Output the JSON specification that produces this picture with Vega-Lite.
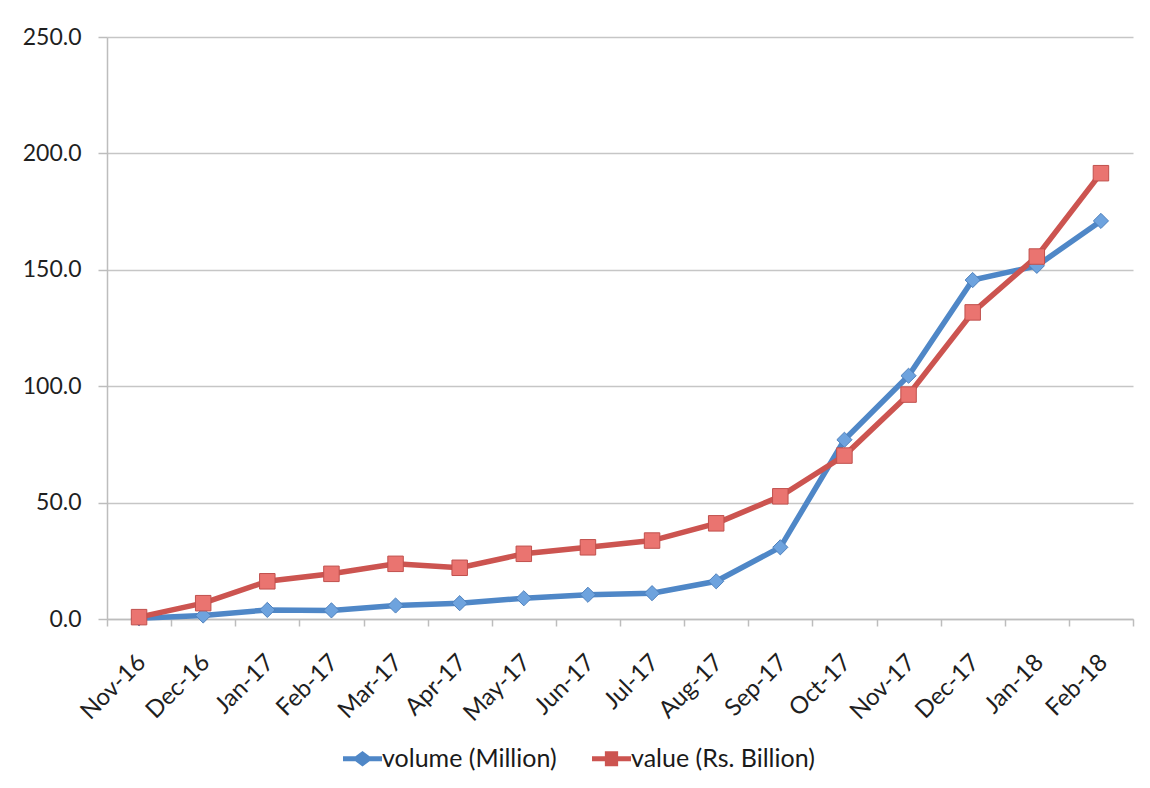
{
  "$schema": "https://vega.github.io/schema/vega-lite/v6.json",
  "width": 1026,
  "height": 582,
  "autosize": {"type": "none"},
  "padding": {"left": 107, "top": 37, "right": 17, "bottom": 169},
  "config": {
    "font": "Lato",
    "view": {"stroke": null},
    "axis": {
      "labelFont": "Lato",
      "labelColor": "#1f1f1f",
      "labelFontSize": 23,
      "domainColor": "#bdbdbd",
      "domainWidth": 1.5,
      "tickColor": "#bdbdbd",
      "tickWidth": 1.5,
      "gridColor": "#c6c6c6",
      "gridWidth": 1.5
    }
  },
  "data": {
    "values": [
      {"month": "Nov-16", "series": "volume (Million)", "val": 0.3},
      {"month": "Dec-16", "series": "volume (Million)", "val": 1.5},
      {"month": "Jan-17", "series": "volume (Million)", "val": 3.9},
      {"month": "Feb-17", "series": "volume (Million)", "val": 3.7},
      {"month": "Mar-17", "series": "volume (Million)", "val": 5.8},
      {"month": "Apr-17", "series": "volume (Million)", "val": 6.8},
      {"month": "May-17", "series": "volume (Million)", "val": 8.9},
      {"month": "Jun-17", "series": "volume (Million)", "val": 10.4},
      {"month": "Jul-17", "series": "volume (Million)", "val": 11.1},
      {"month": "Aug-17", "series": "volume (Million)", "val": 16.2},
      {"month": "Sep-17", "series": "volume (Million)", "val": 30.8},
      {"month": "Oct-17", "series": "volume (Million)", "val": 77.0},
      {"month": "Nov-17", "series": "volume (Million)", "val": 104.5},
      {"month": "Dec-17", "series": "volume (Million)", "val": 145.6},
      {"month": "Jan-18", "series": "volume (Million)", "val": 151.7},
      {"month": "Feb-18", "series": "volume (Million)", "val": 171.0},
      {"month": "Nov-16", "series": "value (Rs. Billion)", "val": 0.8},
      {"month": "Dec-16", "series": "value (Rs. Billion)", "val": 6.8},
      {"month": "Jan-17", "series": "value (Rs. Billion)", "val": 16.2},
      {"month": "Feb-17", "series": "value (Rs. Billion)", "val": 19.4},
      {"month": "Mar-17", "series": "value (Rs. Billion)", "val": 23.7},
      {"month": "Apr-17", "series": "value (Rs. Billion)", "val": 22.0},
      {"month": "May-17", "series": "value (Rs. Billion)", "val": 28.0},
      {"month": "Jun-17", "series": "value (Rs. Billion)", "val": 30.8},
      {"month": "Jul-17", "series": "value (Rs. Billion)", "val": 33.7},
      {"month": "Aug-17", "series": "value (Rs. Billion)", "val": 41.1},
      {"month": "Sep-17", "series": "value (Rs. Billion)", "val": 52.7},
      {"month": "Oct-17", "series": "value (Rs. Billion)", "val": 70.2},
      {"month": "Nov-17", "series": "value (Rs. Billion)", "val": 96.4},
      {"month": "Dec-17", "series": "value (Rs. Billion)", "val": 131.7},
      {"month": "Jan-18", "series": "value (Rs. Billion)", "val": 155.7},
      {"month": "Feb-18", "series": "value (Rs. Billion)", "val": 191.5}
    ]
  },
  "encoding": {
    "x": {
      "field": "month",
      "type": "ordinal",
      "scale": {
        "type": "band",
        "paddingInner": 0,
        "paddingOuter": 0,
        "domain": ["Nov-16", "Dec-16", "Jan-17", "Feb-17", "Mar-17", "Apr-17", "May-17", "Jun-17", "Jul-17", "Aug-17", "Sep-17", "Oct-17", "Nov-17", "Dec-17", "Jan-18", "Feb-18"]
      },
      "axis": {
        "title": null,
        "labelAngle": -45,
        "labelFontSize": 24,
        "tickBand": "extent",
        "grid": false,
        "tickSize": 7,
        "labelPadding": 24,
        "labelOffset": -6
      }
    },
    "y": {
      "field": "val",
      "type": "quantitative",
      "scale": {"domain": [0, 250], "nice": false},
      "axis": {
        "title": null,
        "values": [0, 50, 100, 150, 200, 250],
        "format": ".1f",
        "tickSize": 9,
        "labelPadding": 17
      }
    }
  },
  "layer": [
    {
      "mark": {"type": "line", "strokeWidth": 5.5},
      "encoding": {
        "color": {
          "field": "series",
          "type": "nominal",
          "scale": {"domain": ["volume (Million)", "value (Rs. Billion)"], "range": ["#4f87c7", "#cc5450"]},
          "legend": {
            "title": null,
            "orient": "none",
            "legendX": 236,
            "legendY": 702,
            "direction": "horizontal",
            "labelFontSize": 25,
            "labelColor": "#1a1a1a",
            "labelFont": "Lato",
            "labelLimit": 0,
            "symbolSize": 1521,
            "symbolType": "square",
            "columnPadding": 35,
            "labelOffset": 0,
            "encode": {
              "symbols": {
                "update": {
                  "shape": {"signal": "datum.value === 'volume (Million)' ? 'M-1,-0.13H-0.36L0,-0.4L0.36,-0.13H1V0.13H0.36L0,0.4L-0.36,0.13H-1Z' : 'M-1,-0.13H-0.34V-0.38H0.34V-0.13H1V0.13H0.34V0.38H-0.34V0.13H-1Z'"},
                  "fill": {"scale": "color", "field": "value"},
                  "stroke": {"value": "transparent"},
                  "strokeWidth": {"value": 0}
                }
              }
            }
          }
        }
      }
    },
    {
      "transform": [{"filter": "datum.series === 'volume (Million)'"}],
      "mark": {"type": "point", "shape": "diamond", "size": 230, "filled": true, "fill": "#6ea3de", "stroke": "#4f81bd", "strokeWidth": 1, "opacity": 1}
    },
    {
      "transform": [{"filter": "datum.series === 'value (Rs. Billion)'"}],
      "mark": {"type": "point", "shape": "square", "size": 240, "filled": true, "fill": "#ea7470", "stroke": "#c0504d", "strokeWidth": 1, "opacity": 1}
    }
  ]
}
